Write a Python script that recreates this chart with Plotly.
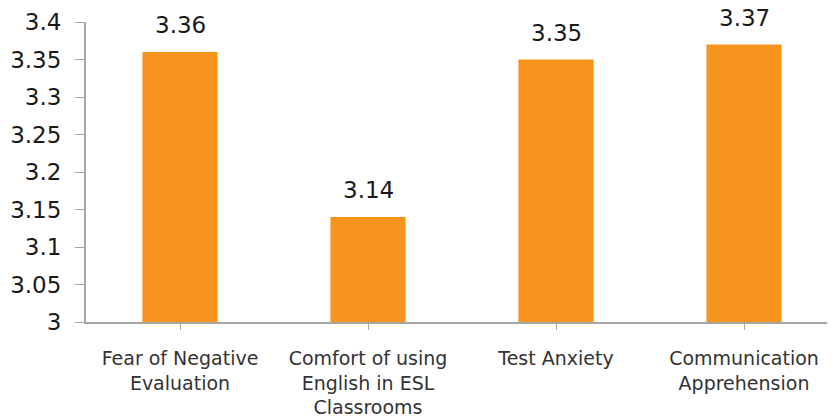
import plotly.graph_objects as go

categories = ["Fear of Negative<br>Evaluation",
              "Comfort of using<br>English in ESL<br>Classrooms",
              "Test Anxiety",
              "Communication<br>Apprehension"]
values = [3.36, 3.14, 3.35, 3.37]
value_labels = ["3.36", "3.14", "3.35", "3.37"]
y_ticks = [3, 3.05, 3.1, 3.15, 3.2, 3.25, 3.3, 3.35, 3.4]
y_tick_labels = ["3", "3.05", "3.1", "3.15", "3.2", "3.25", "3.3", "3.35", "3.4"]
y_base = 3

FONT = "DejaVu Sans"
AXIS = "#a6a6a6"

fig = go.Figure()
fig.add_trace(go.Bar(x=list(range(len(categories))),
                     y=[v - y_base for v in values], base=y_base,
                     marker=dict(color="#F7941E", line=dict(width=0)),
                     hoverinfo="skip"))

for i, (v, t) in enumerate(zip(values, value_labels)):
    fig.add_annotation(x=i, y=v, text=t, showarrow=False, yanchor="bottom",
                       yshift=12, font=dict(family=FONT, size=23, color="#1a1a1a"))

# page body has an 8px default margin; compensate so the plot lands where the reference has it
fig.update_layout(
    width=827, height=408,
    margin=dict(l=78, r=0, t=14, b=94),
    paper_bgcolor="white", plot_bgcolor="white",
    showlegend=False, bargap=0.6,
    xaxis=dict(range=[-0.5, 3.484], tickmode="array",
               tickvals=list(range(len(categories))), ticktext=categories,
               tickson="boundaries", ticks="outside", ticklen=6, tickcolor=AXIS,
               showline=True, linecolor=AXIS, linewidth=2, showgrid=False,
               zeroline=False, ticklabelstandoff=12, automargin=False,
               tickfont=dict(family=FONT, size=19, color="#333333")),
    yaxis=dict(range=[3, 3.4], tickmode="array", tickvals=y_ticks,
               ticktext=y_tick_labels, ticks="outside", ticklen=9,
               tickcolor=AXIS, showline=True, linecolor=AXIS, linewidth=2,
               showgrid=False, zeroline=False, ticklabelstandoff=9,
               automargin=False,
               tickfont=dict(family=FONT, size=23, color="#1a1a1a")),
)

fig.write_html("out.html")
